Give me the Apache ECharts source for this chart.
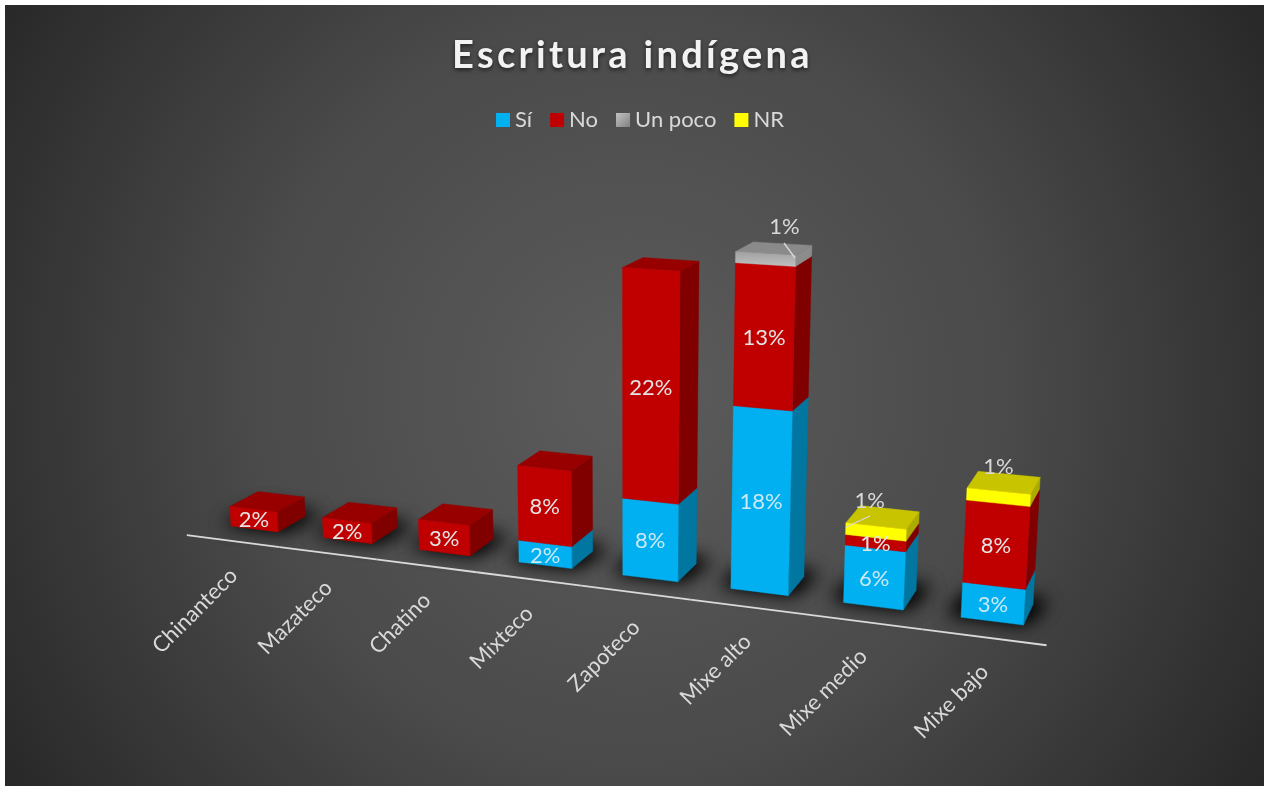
<!DOCTYPE html>
<html>
<head>
<meta charset="utf-8">
<style>
html,body{margin:0;padding:0;background:#fff;overflow:hidden}
#c{position:absolute;left:5px;top:5px;width:1259px;height:781px}
</style>
<script src="https://cdn.jsdelivr.net/npm/echarts@6/dist/echarts.min.js"></script>
</head>
<body>
<div id="c"></div>
<script>
const categories = ['Chinanteco','Mazateco','Chatino','Mixteco','Zapoteco','Mixe alto','Mixe medio','Mixe bajo'];
const si   = [0, 0, 0, 2.2, 7.6, 17.5, 5.5, 3.3];
const no   = [2.1, 2.1, 3.1, 7.5, 21.9, 13.1, 1.0, 7.6];
const poco = [0, 0, 0, 0, 0, 1.0, 0, 0];
const nr   = [0, 0, 0, 0, 0, 0, 1.1, 1.1];

const PAGE = 5;
const YMAX = 40;
const BAR = 0.515;
// perspective camera, from the reference's vanishing points
const A = -0.01875, G = -0.00128, B = 0.0256;
const VX = [-4601, -78], VH = [630, 7800], VD = [1353, -86], O = [231, 526];
function project(X, H, D) {
  const w = 1 + A * X + G * H + B * D;
  return [
    (O[0] + A * X * VX[0] + G * H * VH[0] + B * D * VD[0]) / w - PAGE,
    (O[1] + A * X * VX[1] + G * H * VH[1] + B * D * VD[1]) / w - PAGE
  ];
}
// axis pixel -> world
function world(api, params, cat, val) {
  const p = api.coord([cat, val]);
  const cs = params.coordSys;
  return { X: (p[0] - cs.x) / (cs.width / categories.length) - 0.5, H: (cs.y + cs.height - p[1]) / cs.height * YMAX };
}
const grayGrad = new echarts.graphic.LinearGradient(0, 0, 0, 1, [{offset:0,color:'#a0a0a0'},{offset:1,color:'#c0c0c0'}]);
const legendGray = new echarts.graphic.LinearGradient(0, 0, 1, 1, [{offset:0,color:'#c4c4c4'},{offset:1,color:'#808080'}]);
const TXT = '#d9d9d9', FONT = 'Lato';
const callouts = {
  'Un poco:5': {dx: 19, dy: -33, line: [[784,243],[795,258]]},
  'NR:6': {dx: -6, dy: -32, line: [[846,527],[870,516]]},
  'NR:7': {dx: 0, dy: -31}
};
function poly(points, fill) {
  return {type:'polygon', shape:{points}, style:{fill, stroke:fill, lineWidth:0.4}, silent:true};
}
function segmentSeries(name, values, below, faces, legendColor) {
  const data = values.map((v, i) => {
    const base = below.reduce((s, arr) => s + arr[i], 0);
    return [i, base, base + v, v];
  }).filter(d => d[3] > 0);
  return {
    name, type:'custom', coordinateSystem:'cartesian2d', itemStyle:{color:legendColor}, data, z:3,
    renderItem(params, api) {
      const i = api.value(0);
      const lo = world(api, params, i, api.value(1));
      const hi = world(api, params, i, api.value(2));
      const x0 = lo.X, x1 = lo.X + BAR, xm = lo.X + BAR / 2;
      const a = project(x0, lo.H, 0), b = project(x1, lo.H, 0), c = project(x1, hi.H, 0), d = project(x0, hi.H, 0);
      const e = project(x1, lo.H, 1), f = project(x1, hi.H, 1), g = project(x0, hi.H, 1);
      const children = [
        poly([b, e, f, c], faces.side),
        poly([d, c, f, g], faces.top),
        poly([a, b, c, d], faces.front)
      ];
      const mid = project(xm, (lo.H + hi.H) / 2, 0);
      const co = callouts[name + ':' + i] || {dx:0, dy:0};
      children.push({type:'text', z2:100, silent:true, style:{
        text: Math.round(api.value(3)) + '%', x: mid[0] + co.dx, y: mid[1] + co.dy + 1,
        fill: faces.label, fontFamily: FONT, fontSize: 22, align:'center', verticalAlign:'middle'}});
      if (co.line) children.push({type:'line', z2:99, silent:true,
        shape:{x1:co.line[0][0]-PAGE, y1:co.line[0][1]-PAGE, x2:co.line[1][0]-PAGE, y2:co.line[1][1]-PAGE},
        style:{stroke:'#d9d9d9', lineWidth:1.3}});
      return {type:'group', children};
    }
  };
}
const shadowSeries = {
  name:'sombra', type:'custom', coordinateSystem:'cartesian2d', z:1, silent:true,
  data: categories.map((_, i) => [i, 0]),
  renderItem(params, api) {
    const w = world(api, params, api.value(0), 0);
    const off = 3000;
    const pts = [project(w.X - 0.12, 0, 0.1), project(w.X + BAR + 0.02, 0, 0.1), project(w.X + BAR + 0.1, 0, 1.25), project(w.X - 0.04, 0, 1.25)]
      .map(p => [p[0] - off, p[1]]);
    return {type:'group', children:[0,1].map(() => ({type:'polygon', shape:{points:pts}, silent:true,
      style:{fill:'#000', shadowBlur:18, shadowColor:'rgba(0,0,0,0.8)', shadowOffsetX:off, shadowOffsetY:0}}))};
  }
};
const axisSeries = {
  name:'eje', type:'custom', coordinateSystem:'cartesian2d', z:2, silent:true,
  data: categories.map((_, i) => [i, 0]),
  renderItem(params, api) {
    const w = world(api, params, api.value(0), 0);
    const cx = w.X, half = 0.5;
    const s = project(cx + BAR/2 - half, 0, -0.75), e = project(cx + BAR/2 + half, 0, -0.75), m = project(cx + BAR/2, 0, -0.75);
    return {type:'group', children:[
      {type:'line', silent:true, shape:{x1:s[0],y1:s[1],x2:e[0],y2:e[1]}, style:{stroke:'#d9d9d9', lineWidth:1.8}},
      {type:'text', silent:true, x:m[0]+1, y:m[1]+31, rotation:Math.PI/4,
        style:{text:categories[api.value(0)], fill:TXT, fontFamily:FONT, fontSize:22, align:'right', verticalAlign:'middle'}}
    ]};
  }
};
const chart = echarts.init(document.getElementById('c'));
// The title sits on its own canvas layer so that only it gets the reference's wide letter spacing.
const TITLE_LAYER = 5;
const titleLayer = chart.getZr().painter.getLayer(TITLE_LAYER);
if (titleLayer && titleLayer.ctx) titleLayer.ctx.letterSpacing = '3.3px';
chart.setOption({
  animation:false,
  backgroundColor: new echarts.graphic.RadialGradient(625, 385, 760, [
    {offset:0,color:'#5c5c5c'},{offset:0.5,color:'#4a4a4a'},{offset:1,color:'#262626'}], true),
  title:{text:'Escritura indígena', left:442, top:27, zlevel:TITLE_LAYER,
    textStyle:{color:'#f2f2f2', fontFamily:'Lato', fontWeight:'bold', fontSize:38,
      textShadowColor:'rgba(0,0,0,0.6)', textShadowBlur:4, textShadowOffsetY:2}},
  legend:{data:['Sí','No','Un poco','NR'], left:486, top:99, itemWidth:14, itemHeight:14, itemGap:18, icon:'rect',
    textStyle:{color:TXT, fontFamily:FONT, fontSize:22}},
  grid:{left:100, top:50, width:800, height:600},
  xAxis:{type:'category', data:categories, show:false},
  yAxis:{type:'value', min:0, max:YMAX, show:false},
  series:[
    shadowSeries, axisSeries,
    segmentSeries('Sí', si, [], {front:'#00b0f0', side:'#0076a0', top:'#0088b8', label:'rgba(225,238,245,0.9)'}, '#00b0f0'),
    segmentSeries('No', no, [si], {front:'#c00000', side:'#800000', top:'#980000', label:'#e4e4e4'}, '#c00000'),
    segmentSeries('Un poco', poco, [si, no], {front:grayGrad, side:'#8c8c8c', top:'#8a8a8a', label:TXT}, legendGray),
    segmentSeries('NR', nr, [si, no, poco], {front:'#ffff00', side:'#acac00', top:'#c8c400', label:TXT}, '#ffff00')
  ]
});
</script>
</body>
</html>
